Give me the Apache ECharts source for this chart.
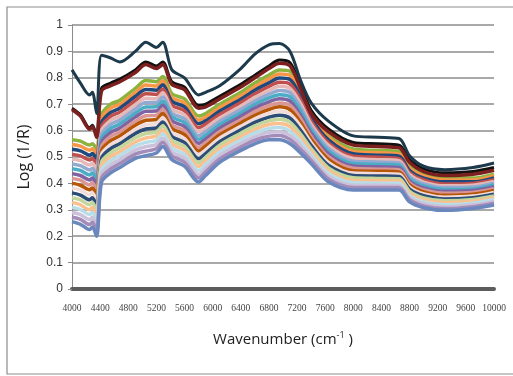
<!DOCTYPE html>
<html>
<head>
<meta charset="utf-8">
<script src="https://cdn.jsdelivr.net/npm/echarts@6/dist/echarts.min.js"></script>
<style>
  html, body { margin: 0; padding: 0; background: #fff; }
  #spectra { width: 513px; height: 376px; }
</style>
</head>
<body>
<div id="spectra"></div>
<script>
// wavenumber positions (cm-1) where values were read
const wavenumbers = [4000, 4120, 4250, 4290, 4350, 4420, 4550, 4680, 4900, 5050, 5200, 5290, 5420, 5600, 5800, 5900, 6100, 6400, 6600, 6800, 6950, 7100, 7250, 7400, 7650, 8000, 8350, 8650, 8800, 9000, 9300, 9700, 10000]
const xTicks = [4000, 4400, 4800, 5200, 5600, 6000, 6400, 6800, 7200, 7600, 8000, 8400, 8800, 9200, 9600, 10000]

// the three separated spectra on top
const navySpectrum = [.83, .78, .735, .745, .665, .885, .875, .86, .90, .935, .915, .935, .83, .80, .735, .745, .77, .835, .89, .925, .93, .90, .79, .705, .635, .58, .575, .57, .505, .465, .452, .46, .477]
const blackSpectrum = [.685, .66, .61, .62, .58, .76, .78, .795, .83, .86, .845, .86, .785, .765, .695, .70, .73, .775, .81, .845, .867, .857, .772, .677, .605, .555, .55, .545, .49, .455, .44, .445, .46]
const maroonSpectrum = [.68, .655, .605, .615, .575, .75, .77, .785, .82, .85, .835, .85, .775, .755, .685, .69, .72, .765, .80, .835, .855, .845, .76, .665, .595, .545, .54, .535, .48, .445, .43, .435, .45]

// the packed band, from top to bottom
const band01 = [.565, .56, .545, .55, .53, .66, .70, .715, .76, .79, .785, .805, .74, .72, .655, .665, .70, .745, .78, .81, .83, .825, .76, .67, .585, .53, .525, .52, .465, .435, .42, .42, .435]
const band02 = [.547, .541, .526, .531, .511, .645, .685, .70, .744, .773, .769, .789, .725, .705, .64, .651, .687, .732, .766, .796, .814, .809, .746, .659, .574, .521, .516, .511, .457, .428, .413, .413, .428]
const band03 = [.529, .523, .507, .513, .491, .63, .669, .685, .729, .756, .753, .774, .711, .69, .626, .637, .674, .719, .753, .781, .799, .793, .731, .647, .564, .512, .507, .503, .449, .42, .406, .406, .421]
const band04 = [.51, .504, .489, .494, .472, .615, .654, .67, .713, .74, .737, .758, .696, .675, .611, .624, .661, .706, .739, .767, .783, .776, .717, .636, .553, .503, .499, .494, .441, .413, .398, .40, .414]
const band05 = [.492, .486, .47, .476, .452, .60, .639, .655, .698, .723, .721, .743, .681, .66, .596, .61, .648, .693, .726, .752, .768, .76, .702, .624, .543, .494, .49, .486, .433, .405, .391, .393, .407]
const band06 = [.474, .467, .451, .457, .433, .585, .624, .64, .682, .706, .706, .727, .666, .645, .581, .596, .635, .68, .712, .738, .752, .744, .688, .613, .532, .484, .481, .477, .425, .398, .384, .386, .401]
const band07 = [.456, .449, .432, .439, .414, .57, .608, .625, .666, .689, .69, .711, .652, .63, .567, .582, .622, .667, .699, .724, .736, .728, .674, .601, .521, .475, .472, .469, .417, .39, .377, .379, .394]
const band08 = [.437, .43, .413, .42, .394, .555, .593, .61, .651, .673, .674, .696, .637, .615, .552, .568, .609, .654, .685, .709, .721, .712, .659, .59, .511, .466, .463, .46, .409, .383, .37, .373, .387]
const band09 = [.419, .412, .394, .402, .375, .54, .578, .595, .635, .656, .658, .68, .622, .60, .537, .554, .596, .641, .672, .695, .705, .696, .645, .578, .50, .457, .454, .452, .401, .375, .363, .366, .38]
const band10 = [.401, .393, .376, .383, .355, .525, .562, .58, .62, .639, .642, .665, .608, .585, .523, .541, .584, .629, .658, .68, .69, .679, .63, .567, .49, .448, .446, .443, .394, .368, .355, .359, .373]
const band11 = [.383, .375, .357, .365, .336, .51, .547, .565, .604, .622, .626, .649, .593, .57, .508, .527, .571, .616, .645, .666, .674, .663, .616, .555, .479, .439, .437, .435, .386, .36, .348, .352, .366]
const band12 = [.364, .356, .338, .346, .316, .495, .532, .55, .589, .606, .61, .633, .578, .555, .493, .513, .558, .603, .631, .651, .658, .647, .601, .544, .468, .43, .428, .426, .378, .353, .341, .346, .359]
const band13 = [.346, .338, .319, .328, .297, .48, .516, .535, .573, .589, .594, .618, .563, .54, .478, .499, .545, .59, .618, .637, .643, .631, .587, .532, .458, .421, .419, .418, .37, .345, .334, .339, .352]
const band14 = [.328, .319, .30, .309, .278, .465, .501, .52, .557, .572, .579, .602, .549, .525, .464, .485, .532, .577, .604, .623, .627, .615, .573, .521, .447, .411, .41, .409, .362, .338, .327, .332, .346]
const band15 = [.31, .301, .282, .291, .258, .45, .486, .505, .542, .555, .563, .587, .534, .51, .449, .471, .519, .564, .591, .608, .612, .598, .558, .509, .437, .402, .401, .401, .354, .33, .319, .325, .339]
const band16 = [.291, .282, .263, .272, .239, .435, .471, .49, .526, .539, .547, .571, .519, .495, .434, .458, .506, .551, .577, .594, .596, .582, .544, .498, .426, .393, .393, .392, .346, .323, .312, .319, .332]
const band17 = [.273, .264, .244, .254, .219, .42, .455, .475, .511, .522, .531, .556, .505, .48, .42, .444, .493, .538, .564, .579, .581, .566, .529, .487, .416, .384, .384, .384, .338, .315, .305, .312, .325]
const band18 = [.255, .245, .225, .235, .20, .405, .44, .46, .495, .505, .515, .54, .49, .465, .405, .43, .48, .525, .55, .565, .565, .55, .515, .475, .405, .375, .375, .375, .33, .308, .298, .305, .318]

const bandSpectra = [band01, band02, band03, band04, band05, band06, band07, band08, band09, band10, band11, band12, band13, band14, band15, band16, band17, band18]
const bandColors = ['#8db33f', '#f79646', '#1f497d', '#c0504d', '#e6b9b8', '#93a9cf', '#4bacc6', '#8064a2', '#d99694', '#b65708', '#f2dcdb', '#2c4d75', '#c3d69b', '#fac090', '#b7dee8', '#ccc1da', '#a48cba', '#6a88be']

function toPoints (values) {
  return values.map(function (v, i) { return [wavenumbers[i], v] })
}

const series = []
bandSpectra.forEach(function (values, i) {
  series.push({
    name: 'band' + (i + 1),
    type: 'line',
    data: toPoints(values),
    symbol: 'none',
    smooth: 0.3,
    lineStyle: { color: bandColors[i], width: 3.5 }
  })
})
series.push({ name: 'black', type: 'line', data: toPoints(blackSpectrum), symbol: 'none', smooth: 0.3, lineStyle: { color: '#111111', width: 3 } })
series.push({ name: 'maroon', type: 'line', data: toPoints(maroonSpectrum), symbol: 'none', smooth: 0.3, lineStyle: { color: '#7b1f1f', width: 3.5 } })
series.push({ name: 'navy', type: 'line', data: toPoints(navySpectrum), symbol: 'none', smooth: 0.3, lineStyle: { color: '#1d3a4c', width: 3 } })

const mychart = echarts.init(document.getElementById('spectra'))
mychart.setOption({
  animation: false,
  backgroundColor: '#ffffff',
  grid: { left: 72, right: 19, top: 25, bottom: 87 },
  graphic: [{
    type: 'rect',
    shape: { x: 7, y: 7, width: 510, height: 367 },
    style: { fill: 'none', stroke: '#8c8c8c', lineWidth: 1.2 },
    silent: true
  }],
  xAxis: {
    type: 'value',
    min: 4000,
    max: 10000,
    interval: 400,
    name: 'Wavenumber (cm{sup|-1} )',
    nameLocation: 'middle',
    nameGap: 42,
    nameTextStyle: {
      fontFamily: 'Open Sans',
      fontSize: 15,
      color: '#222',
      rich: { sup: { fontFamily: 'Open Sans', fontSize: 9, color: '#222', verticalAlign: 'top', padding: [0, 0, 8, 0] } }
    },
    axisLine: { lineStyle: { color: '#5c5c5c', width: 4 } },
    axisTick: { show: false },
    splitLine: { show: false },
    axisLabel: {
      margin: 14,
      fontSize: 9.5,
      color: '#444',
      fontFamily: 'Liberation Sans Narrow',
      formatter: function (v) { return xTicks.indexOf(v) >= 0 ? String(v) : '' }
    }
  },
  yAxis: {
    type: 'value',
    min: 0,
    max: 1,
    interval: 0.1,
    name: 'Log (1/R)',
    nameLocation: 'middle',
    nameGap: 40,
    nameTextStyle: { fontFamily: 'Open Sans', fontSize: 16, color: '#222' },
    axisLine: { show: true, lineStyle: { color: '#8c8c8c', width: 1 } },
    axisTick: { show: true, length: 4, lineStyle: { color: '#8c8c8c' } },
    splitLine: { lineStyle: { color: '#8c8c8c', width: 1.5 } },
    axisLabel: { margin: 9, fontSize: 12, color: '#333', fontFamily: 'Liberation Sans' }
  },
  series: series
})
</script>
</body>
</html>
